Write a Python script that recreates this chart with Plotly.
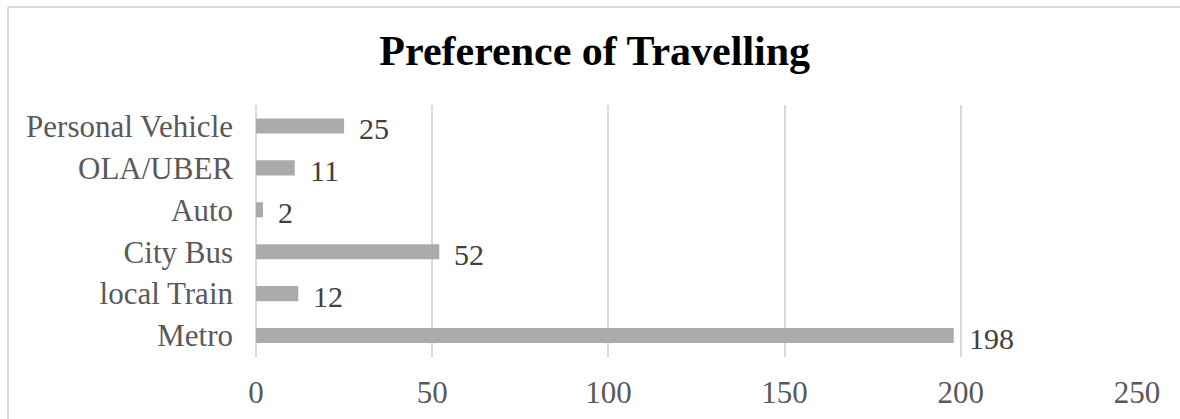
import plotly.graph_objects as go

# Survey responses: preferred mode of travel
modes = ["Metro", "local Train", "City Bus", "Auto", "OLA/UBER", "Personal Vehicle"]
counts = [198, 12, 52, 2, 11, 25]
x_ticks = [0, 50, 100, 150, 200, 250]

SERIF = "Liberation Serif, Times New Roman, serif"

fig = go.Figure(
    go.Bar(
        x=counts,
        y=modes,
        orientation="h",
        width=0.36,
        marker=dict(color="#ABABAB", line=dict(width=0)),
        hoverinfo="x+y",
    )
)

# Value labels just beyond the end of each bar
for m, c in zip(modes, counts):
    fig.add_annotation(
        x=c, y=m, xref="x", yref="y",
        text=str(c), showarrow=False,
        xanchor="left", yanchor="middle",
        xshift=13, yshift=-3,
        font=dict(family=SERIF, size=30, color="#404040"),
    )

# Light chart-area frame (top and left edges)
frame = dict(color="#D9D9D9", width=2)
fig.add_shape(type="line", xref="paper", yref="paper",
              x0=-0.2815, x1=1.1, y0=1.389, y1=1.389, line=frame, layer="below")
fig.add_shape(type="line", xref="paper", yref="paper",
              x0=-0.2815, x1=-0.2815, y0=-0.4, y1=1.389, line=frame, layer="below")

fig.update_layout(
    width=1180, height=419,
    margin=dict(l=256, r=43, t=105, b=62, autoexpand=False),
    paper_bgcolor="white", plot_bgcolor="white",
    showlegend=False,
    title=dict(
        text="<b>Preference of Travelling</b>",
        x=0.504, xanchor="center",
        y=0.879, yanchor="middle",
        font=dict(family=SERIF, size=42, color="#000000"),
    ),
    xaxis=dict(
        range=[0, 250],
        tickvals=x_ticks,
        automargin=False,
        showgrid=True, gridcolor="#D9D9D9", gridwidth=1.5,
        zeroline=True, zerolinecolor="#D9D9D9", zerolinewidth=1.5,
        showline=False,
        ticks="", ticklabelstandoff=14,
        tickfont=dict(family=SERIF, size=31, color="#595959"),
        fixedrange=True,
    ),
    yaxis=dict(
        categoryorder="array", categoryarray=modes,
        automargin=False,
        showgrid=False, zeroline=False, showline=False,
        ticks="", ticklabelstandoff=22,
        tickfont=dict(family=SERIF, size=31, color="#595959"),
        fixedrange=True,
    ),
)

fig.write_html("out.html")
